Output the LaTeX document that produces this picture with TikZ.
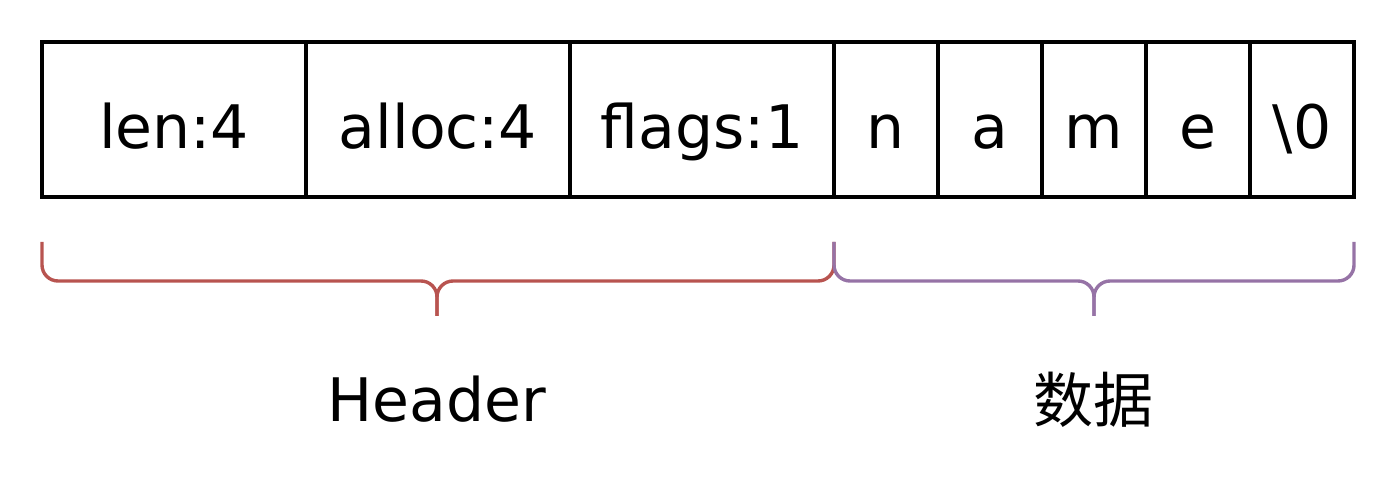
\documentclass[tikz,border=0pt]{standalone}
\usepackage{fontspec}
\setmainfont{DejaVu Sans}
\newfontfamily\cjk{Noto Sans CJK SC}
\definecolor{hdrred}{HTML}{B85450}
\definecolor{datapurple}{HTML}{9673A6}
\begin{document}
\begin{tikzpicture}[x=0.5pt,y=-0.5pt,
  cell/.style={draw,line width=2pt,minimum height=77.5pt,inner sep=0pt,
    text height=28.8pt,text depth=0pt,font=\fontsize{30}{36}\selectfont},
  wide/.style={cell,minimum width=132pt},
  narrow/.style={cell,minimum width=52pt},
  bracket/.style={line width=1.7pt,rounded corners=8pt},
  label/.style={font=\fontsize{30}{36}\selectfont}]
\useasboundingbox (0,0) rectangle (1396,496);
% header fields
\node[wide] (len) at (174,119.5) {len:4};
\node[wide] (alloc) at (438,119.5) {alloc:4};
\node[wide] (flags) at (702,119.5) {flags:1};
% data bytes
\node[narrow] (n) at (886,119.5) {n};
\node[narrow] (a) at (990,119.5) {a};
\node[narrow] (m) at (1094,119.5) {m};
\node[narrow] (e) at (1198,119.5) {e};
\node[narrow] (nul) at (1302,119.5) {\textbackslash 0};
% braces
\draw[bracket,hdrred] (42,242) |- (437,281) -- (437,316);
\draw[bracket,hdrred] (437,316) -- (437,281) -| (834,242);
\draw[bracket,datapurple] (834,242) |- (1094,281) -- (1094,316);
\draw[bracket,datapurple] (1094,316) -- (1094,281) -| (1354,242);
% labels
\node[label,anchor=base] (header) at (437,421) {Header};
\node[label] (data) at (1093,400) {\cjk 数据};
\end{tikzpicture}
\end{document}
